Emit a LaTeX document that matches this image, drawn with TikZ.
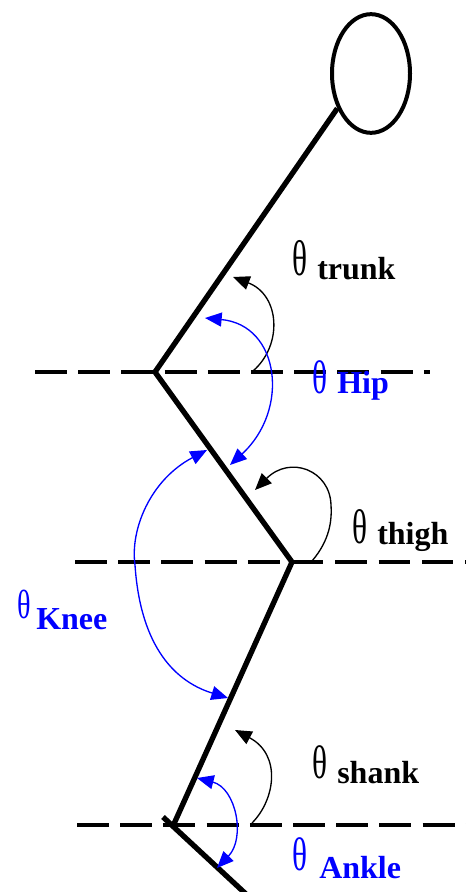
\documentclass[tikz,border=0pt]{standalone}
\usepackage{fontspec}
\usepackage{graphicx}
\setmainfont{Liberation Serif}
\usetikzlibrary{arrows.meta,shapes.geometric}
\definecolor{jblue}{RGB}{0,0,255}
\newcommand{\bigth}[2]{\scalebox{#1}[#2]{θ}}
\begin{document}
\begin{tikzpicture}[x=0.75pt,y=-0.75pt,
  body/.style={line width=4pt, line join=miter},
  refline/.style={line width=3.3pt, dash pattern=on 24pt off 8.4pt},
  refthin/.style={line width=2.4pt, dash pattern=on 23.5pt off 9pt},
  thinarc/.style={line width=1pt},
  onetip/.style={-{Triangle[length=12.5pt,width=10.5pt]}},
  twotips/.style={{Triangle[length=12.5pt,width=10.5pt]}-{Triangle[length=12.5pt,width=10.5pt]}},
  thlab/.style={inner sep=0pt, anchor=base west, font=\fontsize{23.5}{26}\selectfont},
  wlab/.style={inner sep=0pt, anchor=base west, font=\fontsize{24}{27}\selectfont\bfseries},
]
\useasboundingbox (0,0) rectangle (466,892);

% reference lines
\coordinate (hipL) at (35,372);
\coordinate (hipR) at (430,372);
\coordinate (kneeL) at (75,562);
\coordinate (kneeR) at (466,562);
\coordinate (ankL) at (77,825);
\coordinate (ankR) at (466,825);
\coordinate (hip) at (155,372);
\coordinate (knee) at (292,562);
\coordinate (ankle) at (173,826);
\coordinate (toeA) at (163,817);
\coordinate (toeB) at (247,895);

\draw[refline] (hipL) -- (hipR);
\draw[refline] (kneeL) -- (knee);
\draw[refthin] (knee) -- (kneeR);
\draw[refline] (ankL) -- (ankR);

% head and body
\node[ellipse, draw, line width=3pt, inner sep=0pt, minimum width=58.5pt, minimum height=89pt] (head) at (371,73.5) {};
\draw[body] (head.226) -- (hip) -- (knee) -- (ankle);
\draw[body] (toeA) -- (toeB);

% theta trunk (black)
\coordinate (trA) at (253,371);
\coordinate (trB) at (233,277);
\draw[thinarc,onetip] (trA) .. controls (283,345) and (280,295) .. (trB);

% theta hip (blue)
\coordinate (hpA) at (205,318);
\coordinate (hpB) at (230,465);
\draw[thinarc,twotips,jblue] (hpA) .. controls (280,325) and (290,410) .. (hpB);

% theta thigh (black)
\coordinate (tgA) at (312,561);
\coordinate (tgB) at (255,490);
\draw[thinarc,onetip] (tgA) .. controls (330,540) and (332,520) .. (331,505) .. controls (330,470) and (290,455) .. (tgB);

% theta knee (blue)
\coordinate (knA) at (207,450);
\coordinate (knB) at (228,698);
\draw[thinarc,twotips,jblue] (knA) .. controls (150,480) and (130,530) .. (135,565) .. controls (140,640) and (170,680) .. (knB);

% theta shank (black)
\coordinate (shA) at (252,823);
\coordinate (shB) at (235,730);
\draw[thinarc,onetip] (shA) .. controls (275,800) and (282,755) .. (shB);

% theta ankle (blue)
\coordinate (akA) at (197,778);
\coordinate (akB) at (217,868);
\draw[thinarc,twotips,jblue] (akA) .. controls (236,788) and (246,838) .. (akB);

% labels
\node[thlab] (t1) at (292,275) {\bigth{1.0}{1.6}};
\node[wlab] (w1) at (317,279) {trunk};
\node[thlab,text=jblue] (t2) at (312,393) {\bigth{1.0}{1.5}};
\node[wlab,text=jblue] (w2) at (337,393) {Hip};
\node[thlab] (t3) at (352,543) {\bigth{1.0}{1.55}};
\node[wlab] (w3) at (377,544) {thigh};
\node[thlab,text=jblue] (t4) at (17,618) {\bigth{0.9}{1.3}};
\node[wlab,text=jblue] (w4) at (36,629) {Knee};
\node[thlab] (t5) at (312,778) {\bigth{1.0}{1.5}};
\node[wlab] (w5) at (337,783) {shank};
\node[thlab,text=jblue] (t6) at (292,870) {\bigth{1.0}{1.5}};
\node[wlab,text=jblue] (w6) at (319,878) {Ankle};
\end{tikzpicture}
\end{document}
